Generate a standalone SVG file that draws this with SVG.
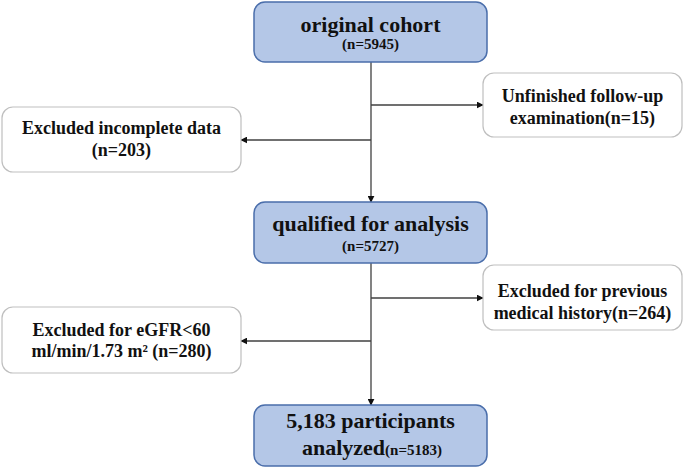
<svg xmlns="http://www.w3.org/2000/svg" width="685" height="468" viewBox="0 0 685 468">
<defs>
<style>
.main{fill:#b4c7e7;stroke:#4a6eab;stroke-width:1.5}
.side{fill:#ffffff;stroke:#bfbfbf;stroke-width:1.2}
text{font-family:"Liberation Serif","Times New Roman",serif;font-weight:bold;fill:#111;text-anchor:middle}
.big{font-size:22px}
.small{font-size:15px}
.mid{font-size:18px}
.conn{stroke:#404040;stroke-width:1.3;fill:none;marker-end:url(#ah)}
</style>
<marker id="ah" viewBox="0 0 10 10" refX="9" refY="5" markerWidth="7" markerHeight="7" markerUnits="userSpaceOnUse" orient="auto">
<path d="M0,0 L10,5 L0,10 Z" fill="#111"/>
</marker>
</defs>
<rect width="685" height="468" fill="#ffffff"/>
<g id="connectors">
<line class="conn" x1="371" y1="62" x2="371" y2="202"/>
<line class="conn" x1="371" y1="105" x2="483" y2="105"/>
<line class="conn" x1="371" y1="140" x2="241" y2="140"/>
<line class="conn" x1="371" y1="263" x2="371" y2="405"/>
<line class="conn" x1="371" y1="298" x2="483" y2="298"/>
<line class="conn" x1="371" y1="341" x2="241" y2="341"/>
</g>
<g id="original">
<rect class="main" x="254" y="2" width="233" height="60" rx="11"/>
<text class="big" x="370.5" y="32">original cohort</text>
<text class="small" x="370.5" y="49">(n=5945)</text>
</g>
<g id="unfinished">
<rect class="side" x="483" y="73" width="199" height="64" rx="11"/>
<text class="mid" x="582.5" y="102">Unfinished follow-up</text>
<text class="mid" x="582.5" y="124">examination(n=15)</text>
</g>
<g id="incomplete">
<rect class="side" x="2" y="107" width="239" height="65" rx="11"/>
<text class="mid" x="121.5" y="134">Excluded incomplete data</text>
<text class="mid" x="121.5" y="156">(n=203)</text>
</g>
<g id="qualified">
<rect class="main" x="254" y="202" width="233" height="61" rx="11"/>
<text class="big" x="370.5" y="231">qualified for analysis</text>
<text class="small" x="370.5" y="251">(n=5727)</text>
</g>
<g id="previous">
<rect class="side" x="483" y="265" width="199" height="65" rx="11"/>
<text class="mid" x="582.5" y="297">Excluded for previous</text>
<text class="mid" x="582.5" y="319">medical history(n=264)</text>
</g>
<g id="egfr">
<rect class="side" x="2" y="307" width="239" height="66" rx="11"/>
<text class="mid" x="121.5" y="336">Excluded for eGFR&lt;60</text>
<text class="mid" x="121.5" y="357">ml/min/1.73 m² (n=280)</text>
</g>
<g id="final">
<rect class="main" x="254" y="405" width="233" height="61" rx="11"/>
<text class="big" x="370.5" y="428">5,183 participants</text>
<text x="372" y="455"><tspan class="big">analyzed</tspan><tspan class="small">(n=5183)</tspan></text>
</g>
</svg>
